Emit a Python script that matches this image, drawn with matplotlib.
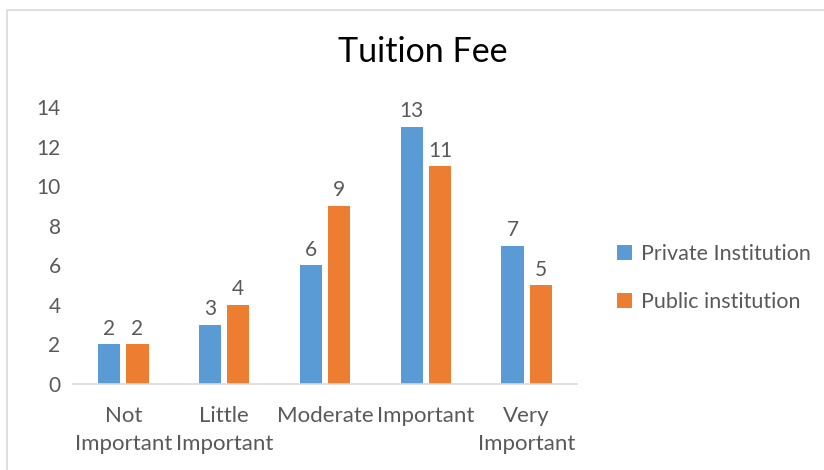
import numpy as np
import matplotlib
matplotlib.use('Agg')
import matplotlib.pyplot as plt
from matplotlib.patches import Rectangle

categories = ['Not\nImportant', 'Little\nImportant', 'Moderate', 'Important', 'Very\nImportant']
private = [2, 3, 6, 13, 7]
public = [2, 4, 9, 11, 5]
yticks = [0, 2, 4, 6, 8, 10, 12, 14]

plt.rcParams['font.family'] = ['Lato', 'DejaVu Sans']
grey = '#595959'
blue = '#5B9BD5'
orange = '#ED7D31'

fig = plt.figure(figsize=(8.24, 4.70), dpi=100)
ax = fig.add_axes([73/824, 1-384/470, 504/824, 277/470])

x = np.arange(len(categories))
w = 0.22
off = 0.14
b1 = ax.bar(x - off, private, w, color=blue, label='Private Institution')
b2 = ax.bar(x + off, public, w, color=orange, label='Public institution')
ax.bar_label(b1, padding=4, fontsize=15, color=grey)
ax.bar_label(b2, padding=4, fontsize=15, color=grey)

ax.set_xlim(-0.5, len(categories) - 0.5)
ax.set_ylim(0, 14)
ax.set_yticks(yticks)
ax.set_xticks(x)
ax.set_xticklabels(categories, fontsize=16, color=grey, linespacing=1.5)
ax.tick_params(axis='y', length=0, labelsize=15, labelcolor=grey, pad=9)
ax.tick_params(axis='x', length=0, pad=16)
for s in ['top', 'right', 'left']:
    ax.spines[s].set_visible(False)
ax.spines['bottom'].set_color('#D9D9D9')
ax.spines['bottom'].set_linewidth(1.2)

fig.text(0.513, 1-52/470, 'Tuition Fee', ha='center', va='center', fontsize=24.5, color='black')

leg = fig.legend(loc='center left', bbox_to_anchor=(598/824, 1-278/470), frameon=False,
                 fontsize=15.5, handlelength=0.7, handleheight=0.7, handletextpad=0.4,
                 labelspacing=1.3, labelcolor=grey)

fig.patches.append(Rectangle((7/824, -0.1), 1.2, 1-10/470+0.1, transform=fig.transFigure,
                             fill=False, edgecolor='#D9D9D9', linewidth=1.2))

plt.savefig('out.png', dpi=100)
